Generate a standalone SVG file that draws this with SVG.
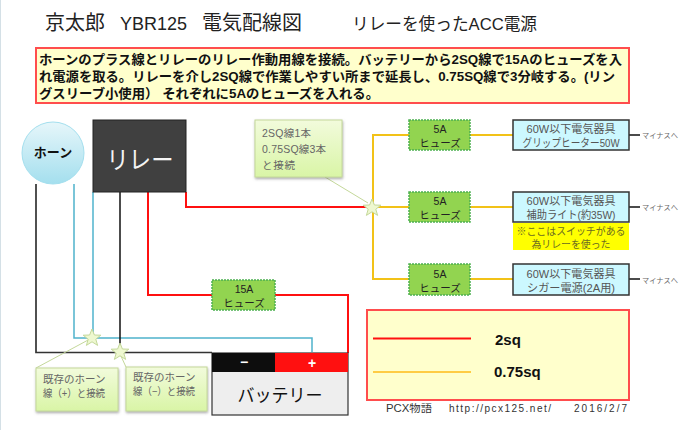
<svg xmlns="http://www.w3.org/2000/svg" width="700" height="430" viewBox="0 0 700 430">
<style>
text{font-family:"Liberation Sans","Noto Sans CJK JP",sans-serif;text-anchor:middle;fill:#222}
.s{text-anchor:start}
.w{fill:none;stroke-linejoin:miter}
.red{stroke:#ff1010;stroke-width:2}
.blue{stroke:#4fb3cc;stroke-width:1.5}
.blk{stroke:#111;stroke-width:1.5}
.blk2{stroke:#333;stroke-width:1.7}
.org{stroke:#f2c218;stroke-width:2}
.fuse{fill:#92d450;stroke:#4cb050;stroke-width:1.5;stroke-dasharray:2 1}
.ft{font-size:10.5px;fill:#222}
.dev{fill:#ccf8ff;stroke:#333;stroke-width:1.5}
.dt{font-size:11px;fill:#555}
.call{fill:url(#cg);stroke:#c4d89a;stroke-width:1;filter:url(#sh)}
.ct{font-size:10.5px;fill:#666}
.note{font-size:13px;font-weight:bold;fill:#111}
.box{fill:#ffffcc;stroke:#ff4d4d;stroke-width:2}
.star{fill:#eef8d0;stroke:#c4d89a;stroke-width:1}
.lead{stroke:#c4d89a;stroke-width:1;fill:none}
.minus{font-size:7.2px;fill:#666}
.foot{font-size:10px;fill:#333}
</style>
<defs>
<linearGradient id="cg" x1="0" y1="0" x2="0" y2="1"><stop offset="0" stop-color="#f2fbdc"/><stop offset="1" stop-color="#d9f5a6"/></linearGradient>
<linearGradient id="hg" x1="0" y1="0" x2="0" y2="1"><stop offset="0" stop-color="#e6f6fa"/><stop offset="1" stop-color="#a4dfee"/></linearGradient>
<filter id="sh" x="-10%" y="-10%" width="125%" height="125%"><feDropShadow dx="0.5" dy="1.5" stdDeviation="0.8" flood-color="#555" flood-opacity="0.5"/></filter>
<polygon id="st" points="0,-9 2.4,-3 8.8,-2.8 3.8,1.2 5.6,7.4 0,3.8 -5.6,7.4 -3.8,1.2 -8.8,-2.8 -2.4,-3"/>
</defs>
<rect width="700" height="430" fill="#fff"/>
<rect x="0" y="0" width="1" height="430" fill="#d4e0e6"/>

<g id="title">
<text class="s" x="45" y="30" font-size="20">京太郎</text>
<text class="s" x="120" y="30" font-size="18" textLength="67" lengthAdjust="spacingAndGlyphs">YBR125</text>
<text class="s" x="202" y="30" font-size="20">電気配線図</text>
<text class="s" x="352" y="30" font-size="17" textLength="185" lengthAdjust="spacingAndGlyphs">リレーを使ったACC電源</text>
</g>

<g id="note">
<rect class="box" x="36" y="48" width="593" height="55"/>
<text class="s note" x="39" y="64" textLength="583" lengthAdjust="spacingAndGlyphs">ホーンのプラス線とリレーのリレー作動用線を接続。バッテリーから2SQ線で15Aのヒューズを入</text>
<text class="s note" x="39" y="81" textLength="576" lengthAdjust="spacingAndGlyphs">れ電源を取る。リレーを介し2SQ線で作業しやすい所まで延長し、0.75SQ線で3分岐する。(リン</text>
<text class="s note" x="39" y="98" textLength="340" lengthAdjust="spacingAndGlyphs">グスリーブ小使用） それぞれに5Aのヒューズを入れる。</text>
</g>

<g id="connectors">
<path class="w blk2" d="M36 184V352.500H212"/>
<path class="w blue" d="M74 184V338H312V352"/>
<path class="w blue" d="M93 192V338"/>
<path class="w blk" d="M120 192V352"/>
<path class="w red" d="M148 192V295H212M275 295H348V353"/>
<path class="w red" d="M186 192V207H372"/>
<path class="w org" d="M373 207V135H409M373 207V279H409M373 207H409M470 135H513M470 207H513M470 279H513"/>
<path class="w blk" d="M629 135H640M629 207H640M629 279H640"/>
<path class="lead" d="M325 177L368 203"/>
<path class="lead" d="M36 368L90 339"/>
<path class="lead" d="M126 367L120 354"/>
</g>

<g id="horn">
<circle cx="53" cy="153" r="31" fill="url(#hg)" stroke="#a4dfee" stroke-width="1"/>
<text x="53" y="157" font-size="13" font-weight="bold" style="fill:#111">ホーン</text>
</g>
<g id="relay">
<rect x="93" y="120" width="93" height="72" fill="#404040" stroke="#222" stroke-width="1"/>
<text x="140" y="169" font-size="25" textLength="67" lengthAdjust="spacingAndGlyphs" style="fill:#f4f4f4">リレー</text>
</g>

<g id="callout-joint">
<rect class="call" x="255" y="120" width="87" height="57"/>
<text class="s ct" x="262" y="137" textLength="49">2SQ線1本</text>
<text class="s ct" x="262" y="153" textLength="64">0.75SQ線3本</text>
<text class="s ct" x="262" y="169" textLength="33">と接続</text>
</g>
<g id="star-main"><use href="#st" x="372" y="208" class="star"/></g>

<g id="fuse-1">
<rect class="fuse" x="409" y="120" width="61" height="30"/>
<text class="ft" x="440" y="133">5A</text><text class="ft" x="440" y="147">ヒューズ</text>
</g>
<g id="fuse-2">
<rect class="fuse" x="409" y="192" width="61" height="30"/>
<text class="ft" x="440" y="205">5A</text><text class="ft" x="440" y="219">ヒューズ</text>
</g>
<g id="fuse-3">
<rect class="fuse" x="409" y="264" width="61" height="31"/>
<text class="ft" x="440" y="278">5A</text><text class="ft" x="440" y="292">ヒューズ</text>
</g>
<g id="fuse-15a">
<rect class="fuse" x="212" y="280" width="63" height="30"/>
<text class="ft" x="244" y="293">15A</text><text class="ft" x="244" y="307">ヒューズ</text>
</g>

<g id="device-1">
<rect class="dev" x="513" y="120" width="116" height="30"/>
<text class="dt" x="571" y="133" textLength="89">60W以下電気器具</text><text class="dt" x="571" y="147" textLength="97" lengthAdjust="spacingAndGlyphs">グリップヒーター50W</text>
<text class="s minus" x="642" y="138" textLength="36">マイナスへ</text>
</g>
<g id="device-2">
<rect class="dev" x="513" y="192" width="116" height="30"/>
<text class="dt" x="571" y="205" textLength="89">60W以下電気器具</text><text class="dt" x="571" y="219" textLength="89" lengthAdjust="spacingAndGlyphs">補助ライト(約35W)</text>
<text class="s minus" x="642" y="210" textLength="36">マイナスへ</text>
</g>
<g id="device-note">
<rect x="513" y="223" width="116" height="27" style="fill:#ffff00"/>
<text x="571" y="235" font-size="10" textLength="109" lengthAdjust="spacingAndGlyphs" style="fill:#6b6b20">※ここはスイッチがある</text>
<text x="571" y="248" font-size="10" textLength="79" lengthAdjust="spacingAndGlyphs" style="fill:#6b6b20">為リレーを使った</text>
</g>
<g id="device-3">
<rect class="dev" x="513" y="264" width="116" height="31"/>
<text class="dt" x="571" y="278" textLength="89">60W以下電気器具</text><text class="dt" x="571" y="292" textLength="88" lengthAdjust="spacingAndGlyphs">シガー電源(2A用)</text>
<text class="s minus" x="642" y="283" textLength="36">マイナスへ</text>
</g>

<g id="battery">
<rect x="212" y="353" width="136" height="62" fill="#eeeeee" stroke="#333" stroke-width="1.2"/>
<rect x="212" y="353" width="63" height="19" fill="#0d0d0d"/>
<rect x="275" y="353" width="73" height="19" fill="#ff1010"/>
<text x="244" y="367" font-size="14" font-weight="bold" style="fill:#fff">−</text>
<text x="312" y="368" font-size="14" font-weight="bold" style="fill:#fff">+</text>
<text x="280" y="402" font-size="18" textLength="85" lengthAdjust="spacingAndGlyphs" style="fill:#111">バッテリー</text>
</g>

<g id="callout-plus">
<rect class="call" x="36" y="368" width="82" height="43"/>
<text class="s ct" x="43" y="383">既存のホーン</text>
<text class="s ct" x="43" y="397" textLength="62" lengthAdjust="spacingAndGlyphs">線（+）と接続</text>
</g>
<g id="callout-minus">
<rect class="call" x="126" y="367" width="81" height="44"/>
<text class="s ct" x="133" y="381">既存のホーン</text>
<text class="s ct" x="133" y="395" textLength="62" lengthAdjust="spacingAndGlyphs">線（−）と接続</text>
</g>
<g id="star-plus"><use href="#st" x="92" y="338" class="star"/></g>
<g id="star-minus"><use href="#st" x="120" y="352" class="star"/></g>

<g id="legend">
<rect class="box" x="367" y="310" width="262" height="90"/>
<path class="w red" d="M373 338.500H471"/>
<path class="w" stroke="#ffcc44" stroke-width="2" d="M373 372H471"/>
<text class="s" x="495" y="345" font-size="15" font-weight="bold" style="fill:#111">2sq</text>
<text class="s" x="494" y="377" font-size="15" font-weight="bold" style="fill:#111">0.75sq</text>
</g>

<g id="footer">
<text class="s foot" x="386" y="412" textLength="46" lengthAdjust="spacingAndGlyphs">PCX物語</text>
<text class="s foot" x="449" y="412" textLength="102">http://pcx125.net/</text>
<text class="s foot" x="574" y="412" textLength="53">2016/2/7</text>
</g>
</svg>
